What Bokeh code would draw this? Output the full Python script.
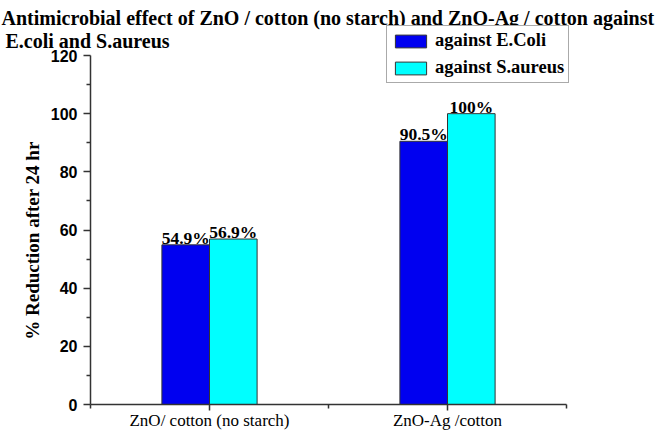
import math
from bokeh.plotting import figure
from bokeh.models import (ColumnDataSource, Range1d, FixedTicker, LabelSet,
                          Legend, LegendItem)
from bokeh.core.properties import value
from bokeh.embed import file_html
from bokeh.resources import INLINE

title_line1 = "Antimicrobial effect of ZnO / cotton (no starch) and ZnO-Ag / cotton against"
title_line2 = "E.coli and S.aureus"
categories = ["ZnO/ cotton (no starch)", "ZnO-Ag /cotton"]
series_names = ["against E.Coli", "against S.aureus"]
ecoli = [54.9, 90.5]
saureus = [56.9, 100.0]
y_ticks = [0, 20, 40, 60, 80, 100, 120]
y_minor = [10, 30, 50, 70, 90, 110]
y_label = "% Reduction after 24 hr"

SERIF = "Liberation Serif"
SANS = "Liberation Sans"
BLUE = "#0000F0"
CYAN = "#00FFFF"
DARK = "#333333"

# layout (pixels)
W, H = 662, 435
FL, FB = 90, 404            # frame left / bottom (axis positions)
AX_RIGHT, AX_TOP = 566, 55  # end of x axis / top of y axis
x0, x1 = -0.5, len(categories) - 0.5
y0, y1 = 0, 120
kx = (AX_RIGHT - FL) / (x1 - x0)
ky = (FB - AX_TOP) / (y1 - y0)
x_end = x1 + (W - AX_RIGHT) / kx
y_end = y1 + AX_TOP / ky


def px(xp):
    return x0 + (xp - FL) / kx


def py(yp):
    return y0 + (FB - yp) / ky


idx = list(range(len(categories)))
src_e = ColumnDataSource(dict(x=[i - 0.1 for i in idx], top=ecoli,
                              lab=[f"{v:g}%" for v in ecoli]))
src_s = ColumnDataSource(dict(x=[i + 0.1 for i in idx], top=saureus,
                              lab=[f"{v:g}%" for v in saureus]))

p = figure(width=W, height=H, x_range=Range1d(x0, x_end), y_range=Range1d(y0, y_end),
           output_backend="svg", toolbar_location=None,
           min_border_left=FL, min_border_right=0, min_border_top=0,
           min_border_bottom=H - FB)
p.outline_line_color = None
p.grid.visible = False
p.background_fill_color = "white"
p.border_fill_color = "white"

r1 = p.vbar(x="x", top="top", bottom=0, width=0.2, source=src_e,
            fill_color=BLUE, line_color=DARK, line_width=1)
r2 = p.vbar(x="x", top="top", bottom=0, width=0.2, source=src_s,
            fill_color=CYAN, line_color=DARK, line_width=1)

for src in (src_e, src_s):
    p.add_layout(LabelSet(x="x", y="top", text="lab", source=src, text_align="center",
                          text_baseline="alphabetic", y_offset=1,
                          text_font=value(SERIF), text_font_style="bold",
                          text_font_size="17.5px", text_color="black"))

# x axis
xa = p.xaxis[0]
xa.bounds = (x0, x1)
xa.ticker = FixedTicker(ticks=idx, minor_ticks=[x0 + 1.0 * k for k in range(len(categories) + 1)])
xa.major_label_overrides = {i: c for i, c in zip(idx, categories)}
xa.major_label_text_font = SERIF
xa.major_label_text_font_size = "17px"
xa.major_label_text_color = "black"
xa.major_label_standoff = 0
xa.major_tick_out = 6
xa.major_tick_in = 0
xa.minor_tick_out = 4
xa.minor_tick_in = 0

# y axis
ya = p.yaxis[0]
ya.bounds = (y0, y1)
ya.ticker = FixedTicker(ticks=y_ticks, minor_ticks=y_minor)
ya.major_label_text_font = SANS
ya.major_label_text_font_style = "bold"
ya.major_label_text_font_size = "16px"
ya.major_label_text_color = "black"
ya.major_label_standoff = 6
ya.major_tick_out = 7
ya.major_tick_in = 0
ya.minor_tick_out = 4
ya.minor_tick_in = 0

for ax in (xa, ya):
    ax.axis_line_color = DARK
    ax.axis_line_width = 1.5
    ax.major_tick_line_color = DARK
    ax.major_tick_line_width = 1.5
    ax.minor_tick_line_color = DARK
    ax.minor_tick_line_width = 1.5

# two-line title, drawn on the overlay level
p.text(x=[px(1), px(5)], y=[py(17), py(40)], text=[title_line1, title_line2],
       text_align="left", text_baseline="alphabetic", text_font=value(SERIF),
       text_font_style="bold", text_font_size="20px", text_color="black",
       level="overlay")

# y axis title
p.text(x=[px(32)], y=[py(240)], text=[y_label], angle=math.pi / 2,
       text_align="center", text_baseline="middle", text_font=value(SERIF),
       text_font_style="bold", text_font_size="19px", text_color="black",
       level="overlay")

legend = Legend(items=[LegendItem(label=series_names[0], renderers=[r1]),
                       LegendItem(label=series_names[1], renderers=[r2])],
                location=(386 - FL, FB - 83), orientation="vertical",
                label_text_font=SERIF, label_text_font_style="bold",
                label_text_font_size="18.5px", label_text_color="black",
                glyph_width=39, glyph_height=16, label_height=20, label_standoff=5,
                spacing=6, padding=4, margin=0,
                border_line_color="#555555", border_line_width=1.5,
                background_fill_color="white", background_fill_alpha=1)
p.add_layout(legend, "center")

open("out.html", "w").write(file_html(p, INLINE))
